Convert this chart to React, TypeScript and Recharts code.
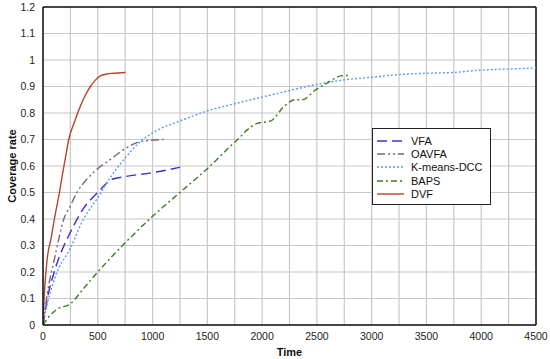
import React from "react";
import { LineChart, Line, XAxis, YAxis, CartesianGrid, ReferenceLine, Legend, Label } from "recharts";

const vfaTime = [0, 40, 110, 250, 370, 500, 630, 750, 1000, 1250];
const vfaRate = [0, 0.1, 0.21, 0.35, 0.44, 0.5, 0.55, 0.56, 0.575, 0.595];

const oavfaTime = [0, 40, 110, 190, 250, 310, 400, 500, 600, 750, 900, 1100];
const oavfaRate = [0, 0.12, 0.26, 0.4, 0.45, 0.5, 0.55, 0.59, 0.62, 0.665, 0.693, 0.7];

const kmeansTime = [0, 40, 110, 250, 370, 500, 620, 750, 870, 1000, 1250, 1500, 1750, 2000, 2250, 2500, 2750, 3000, 3250, 3500, 3750, 4000, 4250, 4500];
const kmeansRate = [0, 0.08, 0.18, 0.29, 0.4, 0.48, 0.56, 0.63, 0.685, 0.725, 0.77, 0.808, 0.835, 0.86, 0.885, 0.908, 0.925, 0.935, 0.945, 0.95, 0.953, 0.962, 0.966, 0.97];

const bapsTime = [0, 50, 130, 250, 375, 500, 750, 1000, 1250, 1500, 1750, 1950, 2080, 2200, 2300, 2370, 2480, 2600, 2720, 2800];
const bapsRate = [0, 0.03, 0.06, 0.08, 0.14, 0.2, 0.31, 0.41, 0.5, 0.59, 0.69, 0.76, 0.77, 0.825, 0.85, 0.85, 0.885, 0.915, 0.94, 0.942];

const dvfTime = [0, 10, 37, 75, 113, 150, 174, 200, 235, 290, 341, 390, 433, 480, 524, 580, 646, 753];
const dvfRate = [0, 0.1, 0.245, 0.33, 0.42, 0.5, 0.56, 0.62, 0.7, 0.77, 0.826, 0.87, 0.9, 0.925, 0.94, 0.947, 0.95, 0.953];

const xTicks = [0, 250, 500, 750, 1000, 1250, 1500, 1750, 2000, 2250, 2500, 2750, 3000, 3250, 3500, 3750, 4000, 4250, 4500];
const yTicks = [0, 0.1, 0.2, 0.3, 0.4, 0.5, 0.6, 0.7, 0.8, 0.9, 1, 1.1, 1.2];

const zip = (t: number[], r: number[]) => t.map((x, i) => ({ x, y: r[i] }));

const series = [
  { name: "VFA", data: zip(vfaTime, vfaRate), color: "#3a2fd6", dash: "10 5" },
  { name: "OAVFA", data: zip(oavfaTime, oavfaRate), color: "#7b6280", dash: "8 3 2 3 2 3" },
  { name: "K-means-DCC", data: zip(kmeansTime, kmeansRate), color: "#5c9cf0", dash: "2 2" },
  { name: "BAPS", data: zip(bapsTime, bapsRate), color: "#3f7a22", dash: "6 3 2 3" },
  { name: "DVF", data: zip(dvfTime, dvfRate), color: "#b2472c", dash: undefined as string | undefined },
];

const font = "Arial, 'Liberation Sans', sans-serif";

const LegendBox = () => (
  <div
    style={{
      width: 119,
      height: 77,
      border: "1.5px solid #222",
      background: "#fff",
      fontFamily: font,
      fontSize: 11,
      color: "#111",
      boxSizing: "border-box",
      paddingTop: 5,
      whiteSpace: "nowrap",
    }}
  >
    {series.map((s) => (
      <div key={s.name} style={{ display: "flex", alignItems: "center", height: 13.4 }}>
        <svg width={35} height={10} style={{ marginLeft: 3, flexShrink: 0 }}>
          <line x1={1} x2={28} y1={5} y2={5} stroke={s.color} strokeWidth={1.4} strokeDasharray={s.dash} />
        </svg>
        <span>{s.name}</span>
      </div>
    ))}
  </div>
);

export default function App() {
  return (
    <div style={{ position: "absolute", left: 0, top: 0, width: 550, height: 359, background: "#fff" }}>
      <LineChart width={550} height={359} margin={{ top: 7, right: 14, bottom: 4, left: 0 }}>
        <CartesianGrid stroke="#c8c8c8" strokeWidth={1.2} />
        <XAxis
          type="number"
          dataKey="x"
          domain={[0, 4500]}
          ticks={xTicks}
          interval={0}
          height={30}
          tickLine={false}
          axisLine={{ stroke: "#111", strokeWidth: 1.5 }}
          tick={{ fill: "#222", fontSize: 10.5, fontFamily: font }}
          tickFormatter={(v: number) => (v % 500 === 0 ? String(v) : "")}
          allowDataOverflow
        >
          <Label value="Time" position="insideBottom" offset={-1} style={{ fontWeight: "bold", fontSize: 11, fill: "#111", fontFamily: font }} />
        </XAxis>
        <YAxis
          type="number"
          domain={[0, 1.2]}
          ticks={yTicks}
          interval={0}
          width={43}
          tickLine={false}
          axisLine={{ stroke: "#111", strokeWidth: 1.5 }}
          tick={{ fill: "#222", fontSize: 10.5, fontFamily: font }}
          tickFormatter={(v: number) => String(Math.round(v * 10) / 10)}
          allowDataOverflow
        >
          <Label value="Coverage rate" angle={-90} position="insideLeft" offset={12} style={{ textAnchor: "middle", fontWeight: "bold", fontSize: 11, fill: "#111", fontFamily: font }} />
        </YAxis>
        <ReferenceLine y={1.2} stroke="#111" strokeWidth={1.5} />
        <ReferenceLine x={4500} stroke="#111" strokeWidth={1.5} />
        {series.map((s) => (
          <Line
            key={s.name}
            data={s.data}
            dataKey="y"
            name={s.name}
            type="monotone"
            stroke={s.color}
            strokeWidth={1.4}
            strokeDasharray={s.dash}
            dot={false}
            activeDot={false}
            isAnimationActive={false}
          />
        ))}
        <Legend
          layout="vertical"
          verticalAlign="middle"
          align="center"
          wrapperStyle={{ position: "absolute", left: 372, top: 128, width: 119 }}
          content={() => <LegendBox />}
        />
      </LineChart>
    </div>
  );
}
